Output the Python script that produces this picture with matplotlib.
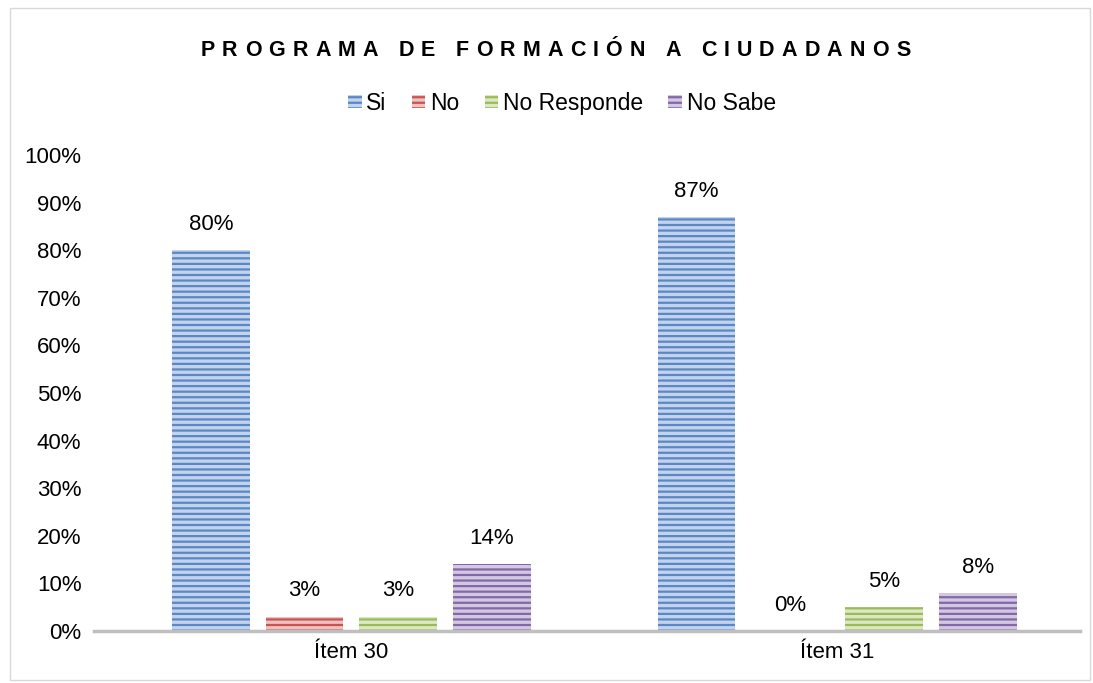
import matplotlib
matplotlib.use('Agg')
import matplotlib.pyplot as plt
import numpy as np
from matplotlib.patches import Rectangle
from matplotlib.font_manager import FontProperties, findfont, get_font

plt.rcParams['font.family'] = ['Liberation Sans', 'DejaVu Sans']
plt.rcParams['hatch.linewidth'] = 1.6

items = ['Ítem 30', 'Ítem 31']
series = ['Si', 'No', 'No Responde', 'No Sabe']
values = {
    'Si': [0.80, 0.87],
    'No': [0.03, 0.00],
    'No Responde': [0.03, 0.05],
    'No Sabe': [0.14, 0.08],
}
dark = ['#5A87C5', '#C9534F', '#9BBB59', '#8367A8']
light = ['#C3D3EC', '#EDC3C2', '#DCE8C4', '#D3C8E2']
title = 'PROGRAMA DE FORMACIÓN A CIUDADANOS'

fig = plt.figure(figsize=(10.93, 6.83), dpi=100)
fig.patches.append(Rectangle((0.009, 0.004), 0.988, 0.985, transform=fig.transFigure,
                             fill=False, edgecolor='#D9D9D9', linewidth=1))
ax = fig.add_axes([0.086, 0.0761, 0.902, 0.697])

x = np.arange(len(items))
w = 0.16
step = 0.193
for i, s in enumerate(series):
    pos = x + (i - 1.5) * step
    ax.bar(pos, values[s], w, color=light[i], edgecolor=dark[i], hatch='---',
           linewidth=0, label=s)
    for p, v in zip(pos, values[s]):
        ax.annotate(f'{v*100:.0f}%', (p, v), xytext=(0, 11), textcoords='offset points',
                    ha='center', va='bottom', fontsize=16)

ax.set_xlim(-0.53, 1.5)
ax.set_ylim(0, 1)
ax.set_yticks(np.arange(0, 1.01, 0.1))
ax.set_yticklabels([f'{t}%' for t in range(0, 101, 10)], fontsize=16)
ax.set_xticks(x)
ax.set_xticklabels(items, fontsize=16)
ax.tick_params(length=0, pad=8)
ax.tick_params(axis='y', pad=9)
for s in ['top', 'right', 'left']:
    ax.spines[s].set_visible(False)
ax.spines['bottom'].set_color('#BFBFBF')
ax.spines['bottom'].set_linewidth(2.5)

# title with letter spacing, drawn char by char
tsize = 15.5
track = 5.1  # extra points between letters
fp = FontProperties(family='Liberation Sans', weight='bold', size=tsize)
font = get_font(findfont(fp))
font.set_size(tsize, 72)
adv = [font.load_char(ord(c)).linearHoriAdvance / 65536 for c in title]
total = sum(adv) + track * (len(title) - 1)
cx = 555.5 / 100 * 72  # points
cy = (683 - 50) / 100 * 72
xpos = cx - total / 2
for c, a in zip(title, adv):
    fig.text(xpos / 72, cy / 72, c, transform=fig.dpi_scale_trans, ha='left', va='center',
             fontproperties=fp)
    xpos += a + track

fig.legend(loc='center', bbox_to_anchor=(0.514, 0.849), ncol=4, frameon=False, fontsize=16.5,
           handlelength=0.6, handleheight=0.55, handletextpad=0.2, columnspacing=1.1)

fig.savefig('out.png', dpi=100)
